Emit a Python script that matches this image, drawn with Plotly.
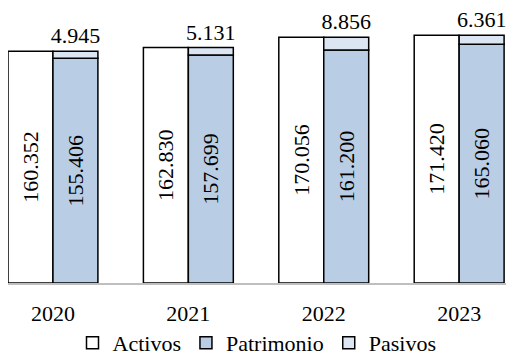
import plotly.graph_objects as go

years = ["2020", "2021", "2022", "2023"]
activos = [160352, 162830, 170056, 171420]
patrimonio = [155406, 157699, 161200, 165060]
pasivos = [4945, 5131, 8856, 6361]

FONT = "Liberation Serif, Times New Roman, serif"
xs = list(range(len(years)))

fig = go.Figure()
fig.add_trace(go.Bar(
    x=xs, y=activos, name="Activos", offsetgroup="a",
    marker=dict(color="white", line=dict(color="black", width=1.5)),
    texttemplate="%{y:,.0f}", textposition="inside", textangle=-90,
    insidetextanchor="middle", insidetextfont=dict(color="black", size=22, family=FONT),
))
fig.add_trace(go.Bar(
    x=xs, y=patrimonio, name="Patrimonio", offsetgroup="b",
    marker=dict(color="#b9cde4", line=dict(color="black", width=1.5)),
    texttemplate="%{y:,.0f}", textposition="inside", textangle=-90,
    insidetextanchor="middle", insidetextfont=dict(color="black", size=22, family=FONT),
))
fig.add_trace(go.Bar(
    x=xs, y=pasivos, base=patrimonio, name="Pasivos", offsetgroup="b",
    marker=dict(color="#dce6f2", line=dict(color="black", width=1.5)),
    texttemplate="%{y:,.0f}", textposition="outside", textangle=0,
    constraintext="none", cliponaxis=False,
    outsidetextfont=dict(color="black", size=22, family=FONT),
))

fig.update_layout(
    width=508, height=356,
    margin=dict(l=0, r=10, t=0, b=65),
    paper_bgcolor="white", plot_bgcolor="white",
    barmode="group", bargap=0.336, bargroupgap=0,
    separators=",.",
    font=dict(family=FONT, size=22, color="black"),
    showlegend=True,
    legend=dict(orientation="h", x=0.5, xanchor="center", y=-0.22, yanchor="middle",
                font=dict(size=22, family=FONT), traceorder="normal",
                bgcolor="rgba(0,0,0,0)", itemwidth=30, tracegroupgap=0),
)
fig.update_xaxes(
    tickmode="array", tickvals=xs, ticktext=years,
    range=[-0.332, 3.346], showline=True, linecolor="#bfbfbf", linewidth=1.5,
    showgrid=False, zeroline=False, ticks="", ticklabelstandoff=10,
    tickfont=dict(size=22, family=FONT),
)
fig.update_yaxes(range=[0, 190200], visible=False, showgrid=False)

fig.write_html("out.html")
